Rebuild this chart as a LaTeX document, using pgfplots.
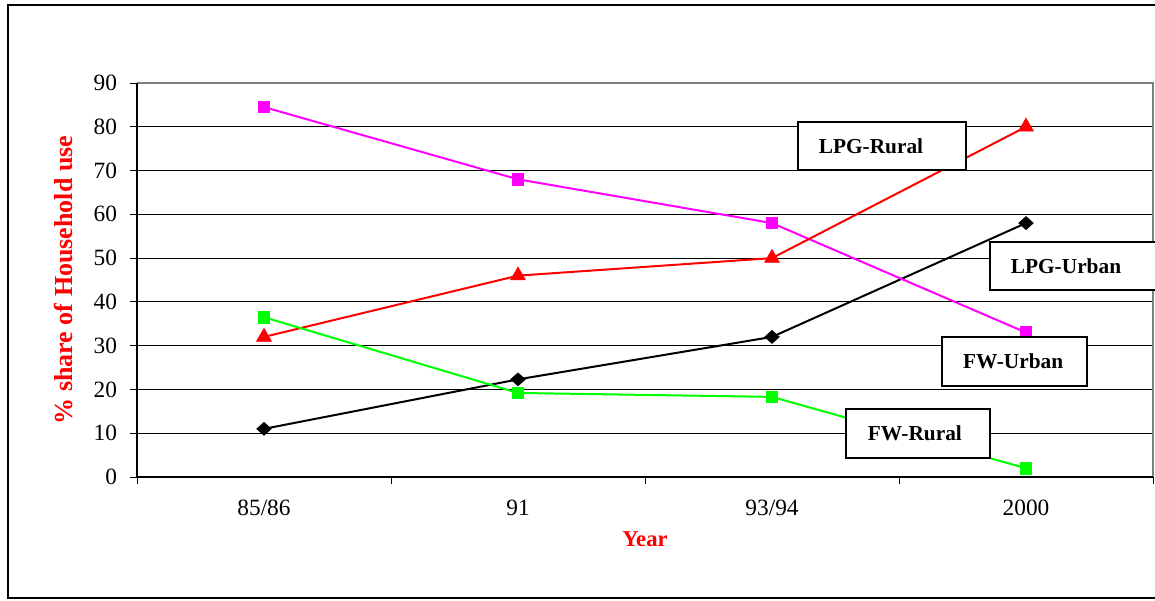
\documentclass[border=0pt]{standalone}
\usepackage{fontspec}
\setmainfont{Liberation Serif}
\usepackage{pgfplots}
\pgfplotsset{compat=1.18}

\definecolor{fwurban}{RGB}{255,0,255}
\definecolor{lpgrural}{RGB}{255,0,0}
\definecolor{fwrural}{RGB}{0,255,0}
\definecolor{lpgurban}{RGB}{0,0,0}
\definecolor{plotborder}{RGB}{128,128,128}

% Share of household fuel use (%), by survey year
\pgfplotstableread{
x  lpgurban fwurban lpgrural fwrural
0  11       84.5    32       36.5
1  22.3     68      46       19.2
2  32       58      50       18.3
3  58       33      80       2
}\fueldata

\begin{document}
\begin{tikzpicture}
\path[use as bounding box] (-102.75pt,-92.25pt) rectangle (763.5pt,357.75pt);
\clip (-102.75pt,-92.25pt) rectangle (763.5pt,357.75pt);
% outer chart frame
\draw[line width=1.5pt] (-96.75pt,-90.75pt) rectangle (800pt,354pt);
\begin{axis}[
  at={(0pt,0pt)}, anchor=south west,
  scale only axis, width=762pt, height=295.5pt,
  xmin=-0.5, xmax=3.5, ymin=0, ymax=90,
  ytick={0,10,...,90},
  xtick={0,1,2,3},
  xticklabels={85/86,91,93/94,2000},
  minor xtick={-0.5,0.5,1.5,2.5,3.5},
  xtick pos=bottom, ytick pos=left,
  tick align=outside,
  major tick length=5pt, minor tick length=5pt,
  major x tick style={draw=none},
  tick style={black, line width=0.75pt},
  axis line style={draw=none},
  ymajorgrids,
  major grid style={black, line width=0.75pt},
  tick label style={font=\fontsize{17.5}{20}\selectfont},
  yticklabel style={xshift=-6.5pt},
  xticklabel style={yshift=-9pt},
  /pgf/number format/assume math mode=true,
  xlabel={Year},
  ylabel={\% share of Household use},
  every axis x label/.style={at={(rel axis cs:0.5,0)}, yshift=-46.5pt, anchor=center,
    font=\fontsize{17}{20}\selectfont\bfseries, text=red},
  every axis y label/.style={at={(rel axis cs:0,0.5)}, xshift=-55pt, anchor=center, rotate=90,
    font=\fontsize{19.5}{23}\selectfont\bfseries, text=red},
  clip=false,
  every axis plot/.append style={line width=1.5pt},
]
\addplot[color=lpgurban, mark=diamond*, mark size=4.9pt, mark options={xscale=1.5, line width=0.4pt}]
  table[x=x, y=lpgurban] {\fueldata};
\addplot[color=fwurban, mark=square*, mark size=4.3pt, mark options={line width=0.5pt}]
  table[x=x, y=fwurban] {\fueldata};
\addplot[color=lpgrural, mark=triangle*, mark size=6.5pt, mark options={line width=0.4pt}]
  table[x=x, y=lpgrural] {\fueldata};
\addplot[color=fwrural, mark=square*, mark size=4.3pt, mark options={line width=0.5pt}]
  table[x=x, y=fwrural] {\fueldata};
\end{axis}
% plot area border
\draw[plotborder, line width=1.1pt] (0pt,295.5pt) -- (762pt,295.5pt) -- (762pt,0pt);
\draw[black, line width=1pt] (0pt,295.5pt) -- (0pt,0pt) -- (762pt,0pt);
% series labels
\begin{scope}[line width=1.3pt, every node/.style={anchor=west, inner sep=0pt,
    font=\fontsize{16}{19}\selectfont\bfseries}]
\draw[fill=white] (495.75pt,230.25pt) rectangle (621.75pt,266.25pt);
\node at (510.75pt,248.25pt) {LPG-Rural};
\draw[fill=white] (639.75pt,140.25pt) rectangle (780pt,176.25pt);
\node at (654.75pt,158.25pt) {LPG-Urban};
\draw[fill=white] (603.5pt,68.5pt) rectangle (712.25pt,104.8pt);
\node at (619pt,86.6pt) {FW-Urban};
\draw[fill=white] (531.75pt,14.25pt) rectangle (639.75pt,51pt);
\node at (547.5pt,32.6pt) {FW-Rural};
\end{scope}
\end{tikzpicture}
\end{document}
